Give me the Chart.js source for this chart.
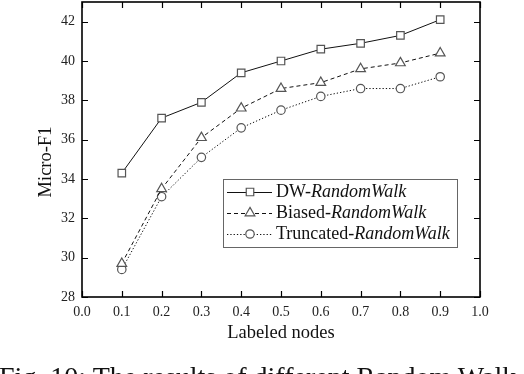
<!DOCTYPE html>
<html>
<head>
<meta charset="utf-8">
<script src="https://cdn.jsdelivr.net/npm/chart.js@4.4.1/dist/chart.umd.min.js"></script>
<style>
  html, body { margin: 0; padding: 0; background: #fff; overflow: hidden; }
  #wrap { position: relative; width: 524px; height: 374px; overflow: hidden; }
  #caption {
    position: absolute; left: -1px; top: 363px; white-space: nowrap;
    font: 28px/28px "Liberation Serif", serif; color: #111;
  }
</style>
</head>
<body>
<div id="wrap">
  <canvas id="myChart"></canvas>
  <div id="caption">Fig. 10: The results of different Random Walk strategies</div>
</div>
<script>
// data
const labeledNodes = [0.1, 0.2, 0.3, 0.4, 0.5, 0.6, 0.7, 0.8, 0.9];
const dwValues = [34.3, 37.1, 37.9, 39.4, 40.0, 40.6, 40.9, 41.3, 42.1];
const biasedValues = [29.7, 33.5, 36.1, 37.6, 38.6, 38.9, 39.6, 39.9, 40.4];
const truncatedValues = [29.4, 33.1, 35.1, 36.6, 37.5, 38.2, 38.6, 38.6, 39.2];
const seriesPrefix = ["DW-", "Biased-", "Truncated-"];
const seriesSuffix = "RandomWalk";
const xTickValues = [0.0, 0.1, 0.2, 0.3, 0.4, 0.5, 0.6, 0.7, 0.8, 0.9, 1.0];
const yTickValues = [28, 30, 32, 34, 36, 38, 40, 42];

const FONT = "'Liberation Serif', 'Times New Roman', serif";

const toPoints = (vals) => vals.map((v, i) => ({ x: labeledNodes[i], y: v }));

const series = [
  { values: dwValues, style: "rect", radius: 5.3, dash: [] },
  { values: biasedValues, style: "triangle", radius: 5.6, dash: [4, 3] },
  { values: truncatedValues, style: "circle", radius: 4.2, dash: [1.3, 2] }
];

const frameAndTicks = {
  id: "frameAndTicks",
  afterDatasetsDraw(chart) {
    const { ctx, scales: { x, y } } = chart;
    // frame follows the scales themselves
    const left = x.getPixelForValue(x.min), right = x.getPixelForValue(x.max);
    const top = Math.max(y.getPixelForValue(y.max), 0.8), bottom = y.getPixelForValue(y.min);
    ctx.save();
    ctx.strokeStyle = "#000";
    ctx.lineWidth = 1.6;
    ctx.strokeRect(left, top, right - left, bottom - top);
    ctx.lineWidth = 1.2;
    ctx.beginPath();
    x.ticks.forEach(t => {
      const px = Math.round(x.getPixelForValue(t.value)) + 0.5;
      ctx.moveTo(px, bottom); ctx.lineTo(px, bottom - 6);
      ctx.moveTo(px, top); ctx.lineTo(px, top + 6);
    });
    y.ticks.forEach(t => {
      const py = Math.round(y.getPixelForValue(t.value)) + 0.5;
      ctx.moveTo(left, py); ctx.lineTo(left + 6, py);
      ctx.moveTo(right, py); ctx.lineTo(right - 6, py);
    });
    ctx.stroke();
    ctx.restore();
  },
  afterDraw(chart) {
    const { ctx } = chart;
    ctx.save();
    // y title
    ctx.fillStyle = "#111";
    ctx.font = "18.5px " + FONT;
    ctx.textAlign = "center";
    ctx.textBaseline = "middle";
    ctx.translate(46, 162);
    ctx.rotate(-Math.PI / 2);
    ctx.fillText("Micro-F1", 0, 0);
    ctx.restore();

    // legend
    ctx.save();
    ctx.strokeStyle = "#666";
    ctx.lineWidth = 1;
    ctx.strokeRect(223.5, 179.5, 234, 68);
    const rows = [192, 213, 234];
    series.forEach((s, i) => {
      const yy = rows[i];
      ctx.strokeStyle = "#111";
      ctx.lineWidth = 1;
      ctx.setLineDash(s.dash);
      ctx.beginPath();
      ctx.moveTo(227, yy + 0.5); ctx.lineTo(272, yy + 0.5);
      ctx.stroke();
      ctx.setLineDash([]);
      ctx.fillStyle = "#fff";
      ctx.strokeStyle = "#555";
      ctx.lineWidth = 1.2;
      Chart.helpers.drawPoint(ctx, { pointStyle: s.style, radius: s.radius, rotation: 0, borderWidth: 1.2 }, 250, yy);
      ctx.fillStyle = "#111";
      ctx.textBaseline = "middle";
      ctx.textAlign = "left";
      ctx.font = "18px " + FONT;
      ctx.fillText(seriesPrefix[i], 276, yy);
      const w = ctx.measureText(seriesPrefix[i]).width;
      ctx.font = "italic 18px " + FONT;
      ctx.fillText(seriesSuffix, 276 + w, yy);
    });
    ctx.restore();
  }
};

new Chart(document.getElementById("myChart"), {
  type: "line",
  data: {
    datasets: series.map((s, i) => ({
      label: seriesPrefix[i] + seriesSuffix,
      data: toPoints(s.values),
      borderColor: "#111",
      borderWidth: 1,
      borderDash: s.dash,
      pointStyle: s.style,
      pointRadius: s.radius,
      pointBackgroundColor: "#fff",
      pointBorderColor: "#555",
      pointBorderWidth: 1.2,
      tension: 0
    }))
  },
  options: {
    responsive: true,
    maintainAspectRatio: false,
    animation: false,
    events: [],
    layout: { autoPadding: false, padding: { left: 0, right: 44, top: 2, bottom: 0 } },
    plugins: { legend: { display: false }, tooltip: { enabled: false } },
    scales: {
      x: {
        type: "linear",
        min: 0,
        max: 1,
        afterBuildTicks: (scale) => { scale.ticks = xTickValues.map(v => ({ value: v })); },
        afterFit: (scale) => { scale.height = 77; },
        grid: { display: false, drawTicks: false },
        border: { display: false },
        ticks: {
          padding: 7,
          color: "#222",
          font: { family: FONT, size: 14 },
          callback: (v) => Number(v).toFixed(1)
        },
        title: {
          display: true,
          text: "Labeled nodes",
          color: "#111",
          font: { family: FONT, size: 18.5 },
          padding: { top: 0, bottom: 30 }
        }
      },
      y: {
        min: 28,
        max: 43,
        afterBuildTicks: (scale) => { scale.ticks = yTickValues.map(v => ({ value: v })); },
        afterFit: (scale) => { scale.width = 82; },
        grid: { display: true, drawOnChartArea: false, drawTicks: true, tickLength: 7, tickColor: "rgba(0,0,0,0)" },
        border: { display: false },
        ticks: {
          padding: 0,
          color: "#222",
          font: { family: FONT, size: 14, lineHeight: 0.1 }
        }
      }
    }
  },
  plugins: [frameAndTicks]
});
</script>
</body>
</html>
